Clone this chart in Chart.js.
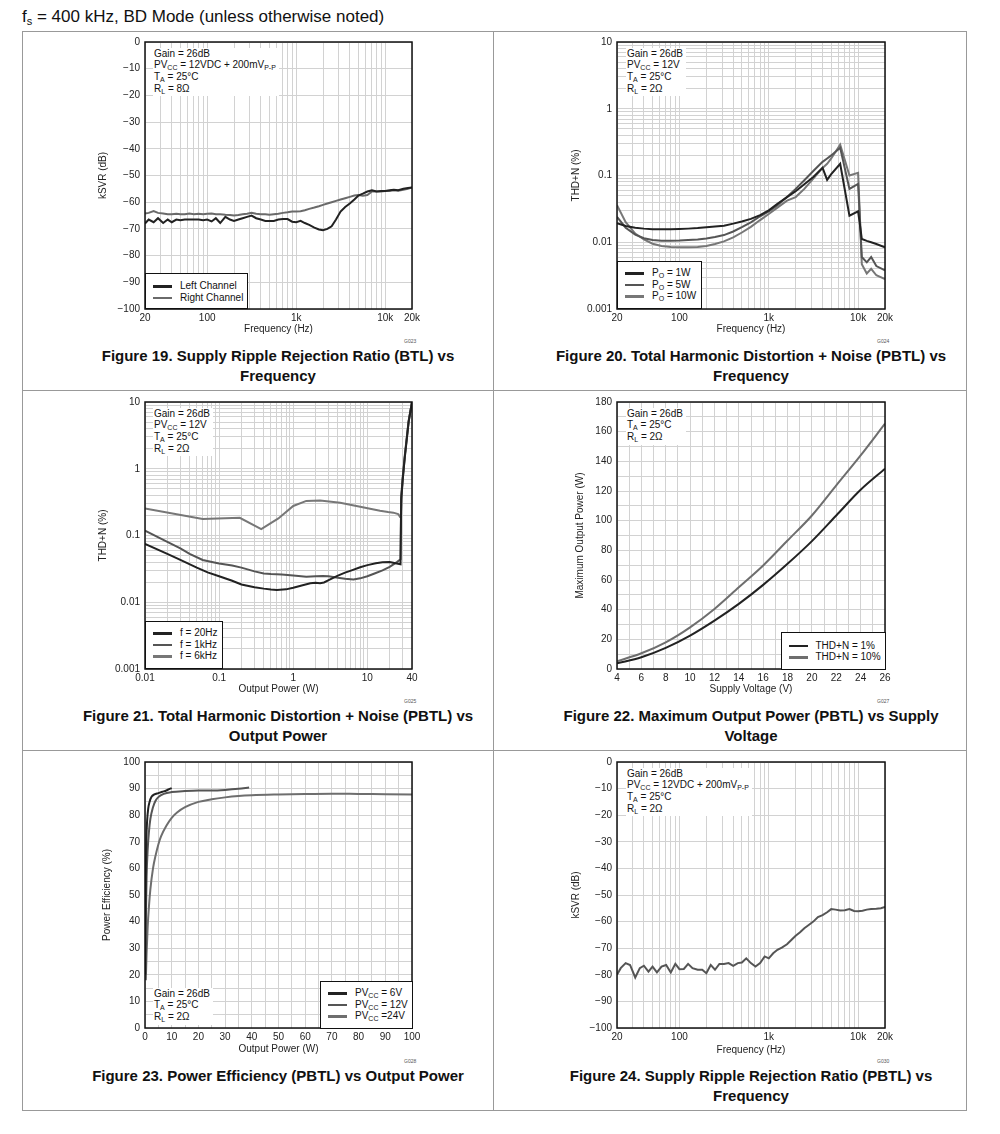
<!DOCTYPE html>
<html>
<head>
<meta charset="utf-8">
<script src="https://cdn.jsdelivr.net/npm/chart.js@4.4.1/dist/chart.umd.min.js"></script>
<style>
  body { margin: 0; background: #fff; font-family: "Liberation Sans", Arial, sans-serif; color: #111; }
  #page { position: relative; width: 1000px; height: 1134px; overflow: hidden; }
  .hdr { position: absolute; left: 22px; top: 7px; font-size: 17px; white-space: nowrap; }
  .hdr sub { font-size: 11px; vertical-align: -3px; }
  .rule { position: absolute; background: #999; }
  .cap { position: absolute; width: 520px; text-align: center; font-weight: bold; font-size: 15px; line-height: 20px; }
  .note { position: absolute; font-size: 10px; line-height: 11.7px; background: #fff; padding: 0 3px 2px 1px; white-space: nowrap; }
  sub { font-size: 7px; vertical-align: -2px; line-height: 0; }
  .lg { position: absolute; box-sizing: border-box; border: 1px solid #111; background: #fff; font-size: 10px; padding-left: 7px; }
  .lg div { height: 11.7px; line-height: 11.7px; white-space: nowrap; }
  .lg span.s { display: inline-block; width: 19px; height: 2.5px; vertical-align: middle; margin-right: 8px; }
  .gid { position: absolute; font-size: 5px; color: #555; }
</style>
</head>
<body>
<div id="page">
  <div class="hdr">f<sub>s</sub> = 400 kHz, BD Mode (unless otherwise noted)</div>

  <div class="rule" style="left:22px;top:31px;width:944px;height:1px"></div>
  <div class="rule" style="left:22px;top:390px;width:944px;height:1px"></div>
  <div class="rule" style="left:22px;top:750px;width:944px;height:1px"></div>
  <div class="rule" style="left:22px;top:1110px;width:945px;height:1px"></div>
  <div class="rule" style="left:22px;top:31px;width:1px;height:1080px"></div>
  <div class="rule" style="left:493px;top:31px;width:1px;height:1080px"></div>
  <div class="rule" style="left:966px;top:31px;width:1px;height:1080px"></div>

  <div class="cap" style="left:18px;top:346px">Figure 19. Supply Ripple Rejection Ratio (BTL) vs<br>Frequency</div>
  <div class="cap" style="left:491px;top:346px">Figure 20. Total Harmonic Distortion + Noise (PBTL) vs<br>Frequency</div>
  <div class="cap" style="left:18px;top:706px">Figure 21. Total Harmonic Distortion + Noise (PBTL) vs<br>Output Power</div>
  <div class="cap" style="left:491px;top:706px">Figure 22. Maximum Output Power (PBTL) vs Supply<br>Voltage</div>
  <div class="cap" style="left:18px;top:1066px">Figure 23. Power Efficiency (PBTL) vs Output Power</div>
  <div class="cap" style="left:491px;top:1066px">Figure 24. Supply Ripple Rejection Ratio (PBTL) vs<br>Frequency</div>

  <div class="gid" style="left:404px;top:338px">G023</div>
  <div class="gid" style="left:877px;top:338px">G024</div>
  <div class="gid" style="left:404px;top:698px">G025</div>
  <div class="gid" style="left:877px;top:698px">G027</div>
  <div class="gid" style="left:404px;top:1058px">G028</div>
  <div class="gid" style="left:877px;top:1058px">G030</div>
</div>

<script>
// ---- data ----
const freqA = [20, 22, 25, 28, 32, 36, 40, 45, 50, 56, 63, 71, 80, 90, 100, 112, 125, 140, 160, 180,
  200, 224, 250, 280, 315, 355, 400, 450, 500, 560, 630, 710, 800, 900, 1000, 1120, 1250, 1400, 1600, 1800,
  2000, 2240, 2500, 2800, 3150, 3550, 4000, 4500, 5000, 5600, 6300, 7100, 8000, 9000, 10000, 11200, 12500, 14000, 16000, 18000, 20000];

// Figure 19, kSVR (dB)
const ksvrLeft = [-68, -66.5, -67.5, -66, -67.8, -66.5, -67.5, -66.5, -66.8, -66.5,
  -66.5, -66.5, -66.5, -66.8, -66.5, -67.2, -66, -67.8, -65.5, -66.5,
  -67, -66.5, -66, -65.5, -65, -66, -66.5, -67, -67, -67,
  -66.5, -66.3, -66.3, -67.3, -67.5, -67, -67.8, -68.5, -69.5, -70.2,
  -70.5, -70, -69, -66.5, -63.5, -61.8, -60.5, -59, -57.5, -56.8,
  -56, -55.5, -56, -55.8, -55.8, -55.5, -55.3, -55.5, -55, -54.7, -54.5];
const ksvrRight = [-64.2, -64, -63.3, -64, -64.2, -64.5, -64.5, -64.3, -64.5, -64.5,
  -64.2, -64.5, -64.3, -64.5, -64.3, -64.2, -64.5, -64.5, -64.7, -64.8,
  -65, -64.8, -64.5, -64.3, -64, -64.3, -64.5, -64.5, -64.7, -64.5,
  -64.3, -64, -63.8, -63.5, -63.5, -63.4, -63, -62.5, -62, -61.5,
  -61, -60.5, -60, -59.5, -59, -58.5, -58, -57.5, -57.3, -57.6,
  -57.3, -56, -56, -56, -55.8, -55.8, -55.5, -55.7, -55.3, -55, -54.5];

// Figure 24, kSVR (dB)
const ksvrPbtl = [-80, -77.5, -75.6, -76.3, -81, -77.5, -76.6, -78.8, -76.9, -79.1,
  -76.9, -76.3, -79.1, -75.9, -77.9, -77.8, -75.9, -77.5, -78.1, -78.1,
  -79.4, -76.3, -78.1, -75.9, -75.9, -75.6, -76.6, -75.6, -75.4, -73.8,
  -75.6, -76.9, -75.6, -73.1, -73.8, -71.9, -70.6, -69.8, -68.5, -66.8,
  -65.3, -64, -62.5, -61.3, -60, -58.3, -57.6, -56.5, -55.3, -55.5,
  -55.8, -55.7, -55.3, -56, -56.1, -55.9, -55.5, -55.3, -55.2, -55, -54.5];

// Figure 20, THD+N (%) vs frequency
const freqB = [20, 25, 32, 40, 50, 63, 80, 100, 125, 160, 200, 250, 315, 400, 500, 630, 800, 1000, 1250, 1600,
  2000, 2500, 3150, 4000, 4500, 5000, 6300, 8000, 10000, 11000, 12500, 14000, 16000, 20000];
const thdPo1 = [0.0193, 0.0175, 0.0165, 0.016, 0.0157, 0.0157, 0.0157, 0.0158, 0.016, 0.0163,
  0.0168, 0.0172, 0.0177, 0.019, 0.0205, 0.0224, 0.0255, 0.030, 0.0377, 0.0475,
  0.058, 0.074, 0.095, 0.13, 0.086, 0.105, 0.15, 0.025, 0.029, 0.0112,
  0.0105, 0.0100, 0.0094, 0.0084];
const thdPo5 = [0.024, 0.0165, 0.013, 0.0115, 0.0108, 0.0105, 0.0105, 0.0106, 0.0108, 0.011,
  0.0114, 0.012, 0.0128, 0.0145, 0.0168, 0.0198, 0.0245, 0.029, 0.036, 0.0475,
  0.063, 0.085, 0.117, 0.16, 0.18, 0.2, 0.26, 0.063, 0.075, 0.006,
  0.005, 0.006, 0.0044, 0.0038];
const thdPo10 = [0.036, 0.02, 0.0135, 0.011, 0.0095, 0.0088, 0.0085, 0.0084, 0.0084, 0.0085,
  0.0088, 0.0094, 0.0103, 0.0118, 0.014, 0.017, 0.0215, 0.0265, 0.033, 0.042,
  0.0475, 0.063, 0.09, 0.13, 0.15, 0.18, 0.29, 0.1, 0.11, 0.0047,
  0.0034, 0.004, 0.0032, 0.0028];

// Figure 21, THD+N (%) vs output power (W)
const pow20 = [0.01, 0.02, 0.03, 0.05, 0.07, 0.1, 0.15, 0.2, 0.3, 0.4, 0.5, 0.6, 0.8, 1, 1.3, 1.7, 2, 2.3, 2.6, 3,
  4, 5, 6, 8, 10, 13, 16, 20, 24, 28, 28.6, 30, 32, 36, 40];
const thd20 = [0.075, 0.053, 0.043, 0.033, 0.028, 0.0245, 0.021, 0.0185, 0.0168, 0.016,
  0.0155, 0.0153, 0.0156, 0.0165, 0.0178, 0.0193, 0.0196, 0.0193, 0.0198, 0.0215,
  0.025, 0.0278, 0.0298, 0.0335, 0.036, 0.0385, 0.0398, 0.04, 0.0385, 0.037, 0.35, 0.7, 1.5, 5, 10];
const pow1k = [0.01, 0.02, 0.03, 0.04, 0.06, 0.08, 0.1, 0.15, 0.2, 0.3, 0.4, 0.5, 0.7, 1, 1.5, 2, 2.5, 3, 4, 5,
  6.5, 8, 10, 12.5, 16, 20, 25, 28, 28.6, 30, 32, 36, 40];
const thd1k = [0.118, 0.08, 0.064, 0.053, 0.043, 0.04, 0.038, 0.0355, 0.033, 0.029,
  0.027, 0.0265, 0.026, 0.0252, 0.0242, 0.0245, 0.0248, 0.0245, 0.0233, 0.0225,
  0.022, 0.0228, 0.0245, 0.027, 0.03, 0.034, 0.04, 0.044, 0.38, 0.75, 1.6, 5.2, 10];
const pow6k = [0.01, 0.06, 0.19, 0.37, 0.63, 1, 1.5, 2.3, 4.3, 8, 14.8, 19, 22.4, 26, 27.6, 28.3, 29, 30, 32, 36, 40];
const thd6k = [0.255, 0.177, 0.184, 0.125, 0.18, 0.277, 0.33, 0.335, 0.31, 0.27, 0.235, 0.225, 0.22, 0.21, 0.19, 0.2, 0.4, 0.7, 1.5, 5, 10];

// Figure 22, max output power (W) vs supply (V)
const supplyV = [4, 6, 8, 10, 12, 14, 16, 18, 20, 22, 24, 26];
const pmax1 = [3.8, 7.9, 14.2, 22.5, 32.6, 43.9, 56.7, 70.9, 86.2, 103.5, 120.8, 135];
const pmax10 = [5.2, 10.6, 18, 28.1, 40.5, 55.1, 69.8, 86.6, 103.5, 123.8, 144, 165.4];

// Figure 23, efficiency (%) vs output power (W)
const effP6 = [0.1, 0.2, 0.35, 0.5, 0.8, 1.2, 1.7, 2.5, 3.5, 5, 6.5, 8, 9, 10];
const eff6 = [20, 45, 62, 71, 78, 82.5, 85, 87, 87.8, 88.3, 88.8, 89.3, 89.8, 90.2];
const effP12 = [0.1, 0.3, 0.6, 1, 1.5, 2, 3, 4, 5, 7, 10, 15, 20, 25, 30, 35, 39];
const eff12 = [18, 40, 57, 67, 74, 78.5, 83, 85.5, 86.8, 88, 88.7, 89.1, 89.3, 89.3, 89.5, 89.9, 90.4];
const effP24 = [0.3, 0.6, 1, 1.5, 2, 3, 4, 5, 6, 8, 10, 12, 15, 20, 25, 30, 35, 40, 50, 60, 70, 80, 90, 100];
const eff24 = [18, 28, 38, 46, 52, 60, 65, 69, 72, 76, 79, 81, 83, 85, 86, 86.7, 87.2, 87.5, 87.8, 88, 88.1, 88, 87.9, 87.8];

// tick labels
const freqTickVals = [20, 100, 1000, 10000, 20000];
const freqTickText = ['20', '100', '1k', '10k', '20k'];
const thdTickVals = [0.001, 0.01, 0.1, 1, 10];
const thdTickText = ['0.001', '0.01', '0.1', '1', '10'];
const powTickVals = [0.01, 0.1, 1, 10, 40];
const powTickText = ['0.01', '0.1', '1', '10', '40'];

// legend texts
const lg19 = ['Left Channel', 'Right Channel'];
const lg20 = ['P<sub>O</sub> = 1W', 'P<sub>O</sub> = 5W', 'P<sub>O</sub> = 10W'];
const lg21 = ['f = 20Hz', 'f = 1kHz', 'f = 6kHz'];
const lg22 = ['THD+N = 1%', 'THD+N = 10%'];
const lg23 = ['PV<sub>CC</sub> = 6V', 'PV<sub>CC</sub> = 12V', 'PV<sub>CC</sub> =24V'];

// ---- drawing ----
Chart.defaults.font.family = '"Liberation Sans", Arial, sans-serif';
Chart.defaults.font.size = 10;
Chart.defaults.color = '#222';

const page = document.getElementById('page');
const GRID = '#d2d2d2';
const DARK = '#222', MID = '#555', LIGHT = '#777';
const PADT = 12, PADR = 16;

const framePlugin = {
  id: 'frame',
  afterDraw(chart) {
    const { ctx, chartArea: a } = chart;
    ctx.save();
    ctx.strokeStyle = '#111';
    ctx.lineWidth = 1.5;
    ctx.strokeRect(a.left, a.top, a.right - a.left, a.bottom - a.top);
    ctx.restore();
  }
};

function pts(xs, ys) { return xs.map((x, i) => ({ x: x, y: ys[i] })); }

function logGrid(min, max) {
  const out = [];
  for (let e = Math.floor(Math.log10(min)); e <= Math.ceil(Math.log10(max)); e++) {
    for (let m = 1; m < 10; m++) {
      const v = +(m * Math.pow(10, e)).toPrecision(6);
      if (v >= min * 0.999 && v <= max * 1.001) out.push(v);
    }
  }
  if (out[out.length - 1] < max) out.push(max);
  return out;
}

function logAxis(min, max, vals, text, title, pad) {
  const grid = logGrid(min, max);
  return {
    type: 'logarithmic', min: min, max: max,
    afterBuildTicks: s => { s.ticks = grid.map(v => ({ value: v })); },
    ticks: {
      autoSkip: false, maxRotation: 0, minRotation: 0, padding: pad,
      callback: v => {
        const i = vals.findIndex(t => Math.abs(t - v) < t * 1e-6);
        return i < 0 ? '' : text[i];
      }
    },
    grid: { color: GRID, drawTicks: false },
    border: { display: false },
    title: { display: true, text: title, padding: 0 }
  };
}

function linAxis(min, max, step, labelStep, title, pad) {
  return {
    type: 'linear', min: min, max: max,
    ticks: {
      stepSize: step, autoSkip: false, maxRotation: 0, padding: pad,
      callback: v => (Math.round(v) % labelStep === 0 ? (v < 0 ? '\u2212' + (-v) : String(v)) : '')
    },
    grid: { color: GRID, drawTicks: false },
    border: { display: false },
    title: { display: true, text: title, padding: 0 }
  };
}

function line(data, color, smooth) {
  return {
    data: data, borderColor: color, borderWidth: 2, pointRadius: 0, fill: false,
    tension: 0, cubicInterpolationMode: smooth ? 'monotone' : 'default'
  };
}

function plot(box, xAxis, yAxis, datasets) {
  const c = document.createElement('canvas');
  c.width = box.yW + (box.r - box.l) + PADR;
  c.height = PADT + (box.b - box.t) + box.xH;
  c.style.position = 'absolute';
  c.style.left = (box.l - box.yW) + 'px';
  c.style.top = (box.t - PADT) + 'px';
  page.appendChild(c);
  xAxis.afterFit = s => { s.height = box.xH; };
  yAxis.afterFit = s => { s.width = box.yW; };
  return new Chart(c, {
    type: 'line',
    data: { datasets: datasets },
    options: {
      responsive: false, animation: false, events: [],
      layout: { padding: { top: PADT, right: PADR, left: 0, bottom: 0 } },
      plugins: { legend: { display: false }, tooltip: { enabled: false } },
      scales: { x: xAxis, y: yAxis }
    },
    plugins: [framePlugin]
  });
}

function note(l, t, html) {
  const d = document.createElement('div');
  d.className = 'note';
  d.style.left = l + 'px';
  d.style.top = t + 'px';
  d.innerHTML = html;
  page.appendChild(d);
}

function legend(chart, labels, l, t, w, h, padTop) {
  const d = document.createElement('div');
  d.className = 'lg';
  d.style.cssText = 'left:' + l + 'px;top:' + t + 'px;width:' + w + 'px;height:' + h + 'px;padding-top:' + padTop + 'px';
  chart.data.datasets.forEach((ds, i) => {
    const row = document.createElement('div');
    row.innerHTML = '<span class="s" style="background:' + ds.borderColor + '"></span>' + labels[i];
    d.appendChild(row);
  });
  page.appendChild(d);
}

// Figure 19
const c19 = plot({ l: 145, t: 42, r: 412, b: 309, yW: 48, xH: 26 },
  logAxis(20, 20000, freqTickVals, freqTickText, 'Frequency (Hz)', 3),
  linAxis(-100, 0, 10, 10, 'kSVR (dB)', 5),
  [line(pts(freqA, ksvrLeft), DARK), line(pts(freqA, ksvrRight), '#6a6a6a')]);
note(153, 47.5, 'Gain = 26dB<br>PV<sub>CC</sub> = 12VDC + 200mV<sub>P-P</sub><br>T<sub>A</sub> = 25°C<br>R<sub>L</sub> = 8Ω');
legend(c19, lg19, 145, 272.5, 103, 36.5, 6.5);

// Figure 20
const c20 = plot({ l: 617, t: 42, r: 885, b: 309, yW: 47, xH: 26 },
  logAxis(20, 20000, freqTickVals, freqTickText, 'Frequency (Hz)', 3),
  logAxis(0.001, 10, thdTickVals, thdTickText, 'THD+N (%)', 5),
  [line(pts(freqB, thdPo1), DARK), line(pts(freqB, thdPo5), MID), line(pts(freqB, thdPo10), LIGHT)]);
note(626, 47.5, 'Gain = 26dB<br>PV<sub>CC</sub> = 12V<br>T<sub>A</sub> = 25°C<br>R<sub>L</sub> = 2Ω');
legend(c20, lg20, 617, 260.5, 85, 48.5, 5.5);

// Figure 21
const c21 = plot({ l: 145, t: 402, r: 412, b: 669, yW: 48, xH: 26 },
  logAxis(0.01, 40, powTickVals, powTickText, 'Output Power (W)', 3),
  logAxis(0.001, 10, thdTickVals, thdTickText, 'THD+N (%)', 5),
  [line(pts(pow20, thd20), DARK), line(pts(pow1k, thd1k), MID), line(pts(pow6k, thd6k), LIGHT)]);
note(153, 407.5, 'Gain = 26dB<br>PV<sub>CC</sub> = 12V<br>T<sub>A</sub> = 25°C<br>R<sub>L</sub> = 2Ω');
legend(c21, lg21, 145, 620.5, 78, 48.5, 5.5);

// Figure 22
const c22 = plot({ l: 617, t: 402, r: 885, b: 669, yW: 43, xH: 26 },
  linAxis(4, 26, 1, 2, 'Supply Voltage (V)', 3),
  linAxis(0, 180, 10, 20, 'Maximum Output Power (W)', 5),
  [line(pts(supplyV, pmax1), DARK, true), line(pts(supplyV, pmax10), '#6e6e6e', true)]);
note(626, 407.5, 'Gain = 26dB<br>T<sub>A</sub> = 25°C<br>R<sub>L</sub> = 2Ω');
legend(c22, lg22, 780.5, 632, 105, 37.5, 6.5);

// Figure 23
const c23 = plot({ l: 145, t: 762, r: 412, b: 1028, yW: 44, xH: 27 },
  linAxis(0, 100, 5, 10, 'Output Power (W)', 3),
  linAxis(0, 100, 5, 10, 'Power Efficiency (%)', 5),
  [line(pts(effP6, eff6), DARK, true), line(pts(effP12, eff12), MID, true), line(pts(effP24, eff24), '#6e6e6e', true)]);
note(153, 987.5, 'Gain = 26dB<br>T<sub>A</sub> = 25°C<br>R<sub>L</sub> = 2Ω');
legend(c23, lg23, 320, 980.5, 93, 48.5, 5.5);

// Figure 24
plot({ l: 617, t: 762, r: 885, b: 1028, yW: 47, xH: 28 },
  logAxis(20, 20000, freqTickVals, freqTickText, 'Frequency (Hz)', 3),
  linAxis(-100, 0, 10, 10, 'kSVR (dB)', 5),
  [line(pts(freqA, ksvrPbtl), '#555')]);
note(626, 767.5, 'Gain = 26dB<br>PV<sub>CC</sub> = 12VDC + 200mV<sub>P-P</sub><br>T<sub>A</sub> = 25°C<br>R<sub>L</sub> = 2Ω');
</script>
</body>
</html>
